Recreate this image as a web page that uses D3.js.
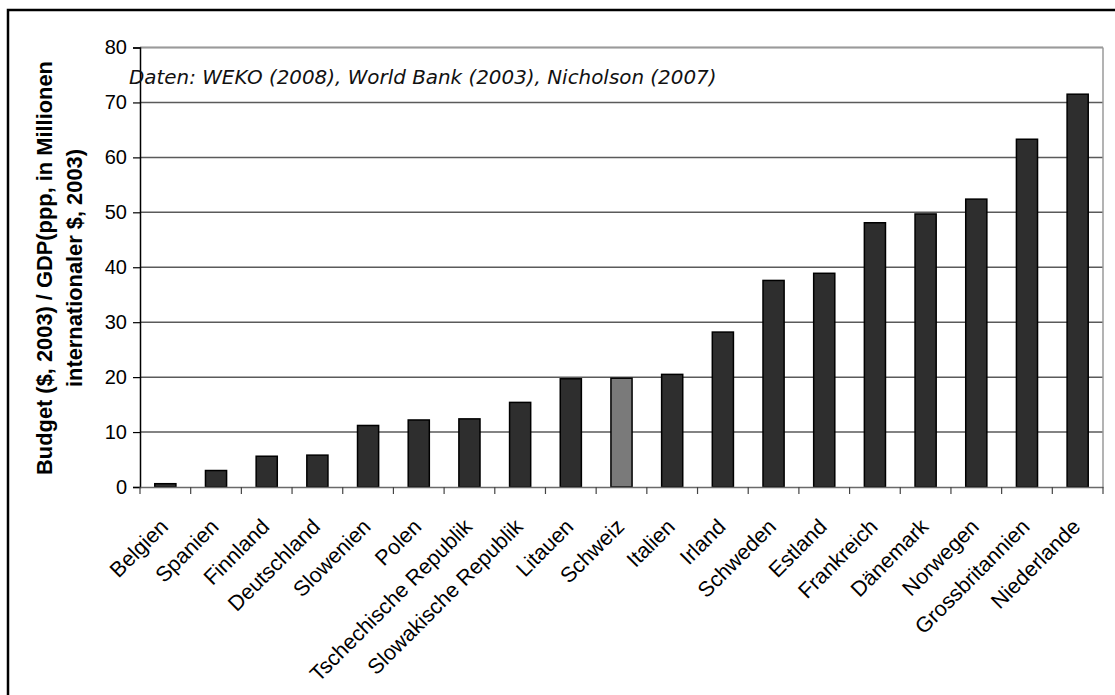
<!DOCTYPE html>
<html>
<head>
<meta charset="utf-8">
<script src="https://cdn.jsdelivr.net/npm/d3@7"></script>
<style>
html,body{margin:0;padding:0;background:#fff;}
svg{display:block;}
</style>
</head>
<body>
<svg id="chart" width="1115" height="695"></svg>
<script>
const categories = ["Belgien","Spanien","Finnland","Deutschland","Slowenien","Polen","Tschechische Republik","Slowakische Republik","Litauen","Schweiz","Italien","Irland","Schweden","Estland","Frankreich","Dänemark","Norwegen","Grossbritannien","Niederlande"];
const values = [0.6,3.0,5.6,5.8,11.2,12.2,12.4,15.4,19.7,19.8,20.5,28.2,37.6,38.9,48.1,49.7,52.4,63.3,71.5];
const highlighted = ["Schweiz"];
const yTicks = [0,10,20,30,40,50,60,70,80];
const yTitleLines = ["Budget ($, 2003) / GDP(ppp, in Millionen","internationaler $, 2003)"];
const noteText = "Daten: WEKO (2008), World Bank (2003), Nicholson (2007)";

const svg = d3.select("#chart");
const margin = {left:140, top:47.5, right:1103, bottom:487};
const font = "'Liberation Sans', Arial, sans-serif";

// outer frame
svg.append("rect").attr("x",8).attr("y",10).attr("width",1130).attr("height",720)
  .attr("fill","none").attr("stroke","#000").attr("stroke-width",2.5);

const x = d3.scaleBand().domain(categories).range([margin.left, margin.right]).paddingInner(0).paddingOuter(0);
const y = d3.scaleLinear().domain([0,80]).range([margin.bottom, margin.top]);

// gridlines
svg.append("g").selectAll("line").data(yTicks.filter(d=>d>0)).join("line")
  .attr("x1",margin.left).attr("x2",margin.right)
  .attr("y1",d=>y(d)).attr("y2",d=>y(d))
  .attr("stroke","#5a5a5a").attr("stroke-width",1.5);

// plot border right / top
svg.append("line").attr("x1",margin.right).attr("x2",margin.right).attr("y1",margin.top).attr("y2",margin.bottom)
  .attr("stroke","#9a9a9a").attr("stroke-width",1.5);
svg.append("line").attr("x1",margin.left).attr("x2",margin.right).attr("y1",margin.top).attr("y2",margin.top)
  .attr("stroke","#9a9a9a").attr("stroke-width",1.5);

// bars
const bw = x.bandwidth()/2.4;
svg.append("g").selectAll("rect").data(categories).join("rect")
  .attr("x",(d)=>x(d)+x.bandwidth()/2-bw/2)
  .attr("width",bw)
  .attr("y",(d,i)=>y(values[i]))
  .attr("height",(d,i)=>y(0)-y(values[i]))
  .attr("fill",d=>highlighted.includes(d)?"#7a7a7a":"#2e2e2e")
  .attr("stroke","#000").attr("stroke-width",1.5);

// y axis
const yAxis = d3.axisLeft(y).tickValues(yTicks).tickSizeOuter(0).tickSize(7).tickPadding(6);
const gy = svg.append("g").attr("transform",`translate(${margin.left},0)`).call(yAxis);
gy.select(".domain").attr("stroke","#000").attr("stroke-width",1.5);
gy.selectAll(".tick line").attr("stroke","#000").attr("stroke-width",1.2);
gy.selectAll(".tick text").attr("font-family",font).attr("font-size",20).attr("fill","#000");

// x axis
const xAxis = d3.axisBottom(x).tickSize(0).tickFormat("");
const gx = svg.append("g").attr("transform",`translate(0,${margin.bottom})`).call(xAxis);
gx.select(".domain").attr("stroke","#6a6a6a").attr("stroke-width",1.5);
const bounds = categories.map(c=>x(c)).concat([margin.right]);
svg.append("g").selectAll("line").data(bounds).join("line")
  .attr("x1",d=>d).attr("x2",d=>d).attr("y1",margin.bottom).attr("y2",margin.bottom+7)
  .attr("stroke","#444").attr("stroke-width",1.2);

// x labels
svg.append("g").selectAll("text").data(categories).join("text")
  .attr("transform",d=>`translate(${x(d)+x.bandwidth()/2+4},${528}) rotate(-45)`)
  .attr("text-anchor","end")
  .attr("font-family",font)
  .attr("font-size",21.5)
  .attr("fill","#000")
  .text(d=>d);

// y title
const yt = svg.append("text")
  .attr("transform",`translate(52,268) rotate(-90)`)
  .attr("text-anchor","middle")
  .attr("font-family",font)
  .attr("font-weight","bold")
  .attr("font-size",20)
  .attr("fill","#000");
yt.selectAll("tspan").data(yTitleLines).join("tspan")
  .attr("x",0).attr("dy",(d,i)=>i===0?0:"1.35em").text(d=>d);
const l1 = yt.select("tspan").node().getComputedTextLength();
yt.attr("font-size", 20*414/l1);

// note
const note = svg.append("text")
  .attr("x",129).attr("y",84)
  .attr("font-family","'DejaVu Sans', sans-serif")
  .attr("font-style","italic")
  .attr("font-size",18)
  .attr("fill","#111")
  .text(noteText);
const nl = note.node().getComputedTextLength();
note.attr("font-size", 18*588/nl);
</script>
</body>
</html>
